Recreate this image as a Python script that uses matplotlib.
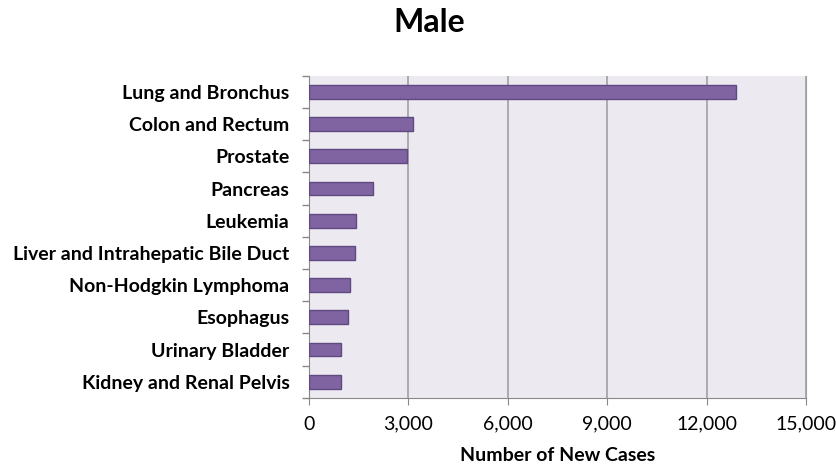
import numpy as np
import matplotlib.pyplot as plt
from matplotlib.ticker import FuncFormatter, FixedLocator

sites = ['Lung and Bronchus', 'Colon and Rectum', 'Prostate', 'Pancreas', 'Leukemia',
         'Liver and Intrahepatic Bile Duct', 'Non-Hodgkin Lymphoma', 'Esophagus',
         'Urinary Bladder', 'Kidney and Renal Pelvis']
new_cases = [12880, 3150, 2970, 1940, 1410, 1400, 1250, 1180, 980, 980]

plt.rcParams['font.family'] = ['Lato', 'DejaVu Sans']

fig = plt.figure(figsize=(8.37, 4.68), dpi=100)
ax = fig.add_axes([0.369, 0.150, 0.594, 0.688])
ax.set_facecolor('#ECEAF0')

index = np.arange(len(sites))
ax.barh(index, new_cases, height=0.43, color='#8064A2', edgecolor='#5E4A80', linewidth=1, zorder=3)
ax.set_ylim(len(sites) - 0.5, -0.5)
ax.set_xlim(0, 15000)

ax.set_yticks(index)
ax.set_yticklabels(sites, fontsize=14, fontweight='bold')
ax.yaxis.set_minor_locator(FixedLocator(np.arange(-0.5, len(sites), 1)))
ax.tick_params(axis='y', which='major', length=0, pad=14)
ax.tick_params(axis='y', which='minor', length=5, color='#888888', width=1)

ax.set_xticks(np.arange(0, 15001, 3000))
ax.xaxis.set_major_formatter(FuncFormatter(lambda v, p: f'{int(v):,}'))
ax.tick_params(axis='x', length=5, color='#888888', labelsize=14, pad=8)
ax.grid(axis='x', color='#A0A0A0', linewidth=1.2, zorder=1)

ax.spines['top'].set_visible(False)
ax.spines['right'].set_color('#A0A0A0')
ax.spines['left'].set_color('#888888')
ax.spines['bottom'].set_color('#888888')

ax.set_xlabel('Number of New Cases', fontsize=14, fontweight='bold', labelpad=10)
fig.text(0.513, 0.952, 'Male', fontsize=23, fontweight='bold', ha='center', va='center')

fig.savefig('out.png', dpi=100)
